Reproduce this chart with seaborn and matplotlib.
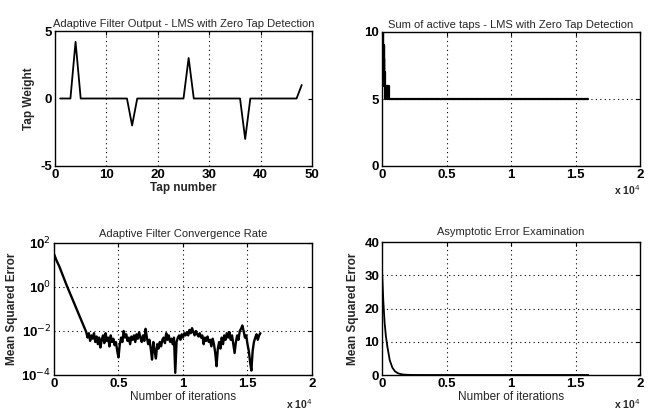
import numpy as np
import pandas as pd
import matplotlib
matplotlib.use("Agg")
import matplotlib.pyplot as plt
import seaborn as sns

sns.set_style("white")
plt.rcParams["font.family"] = ["Liberation Sans", "DejaVu Sans"]
plt.rcParams["axes.unicode_minus"] = False

# --- Adaptive filter tap weights after convergence ---
tap_index = list(range(1, 49))
tap_weight = [0, 0, 0, 4.2, 0, 0, 0, 0, 0, 0, 0, 0, 0, 0, -2.0, 0,
              0, 0, 0, 0, 0, 0, 0, 0, 0, 3.0, 0, 0, 0, 0, 0, 0,
              0, 0, 0, 0, -3.0, 0, 0, 0, 0, 0, 0, 0, 0, 0, 0, 1.0]

# --- Number of active taps over the run ---
active_iter = [0, 20, 40, 60, 80, 100, 120, 140, 160, 180, 200, 250,
               300, 350, 400, 450, 500, 550, 600, 16000]
active_taps = [10, 9, 10, 8, 9, 7, 9, 6, 8, 7, 6, 5,
               6, 5, 6, 5, 6, 5, 5, 5]

# --- Mean squared error (log10) : initial descent, then steady state ---
decay_iter = [0, 100, 200, 300, 400, 600, 800, 1000, 1250, 1500,
              1750, 2000, 2250]
decay_log_mse = [1.5, 1.35, 1.2, 1.07, 0.95, 0.65, 0.35, 0.05, -0.3, -0.65,
                 -1.0, -1.35, -1.7]

steady_first, steady_last = 2500, 16000
steady_log_mse = [
    -2.05, -2.3, -2.1, -2.45, -2.2, -2.35, -2.1, -2.5, -2.25, -2.6,
    -2.3, -2.75, -2.4, -2.2, -2.55, -2.1, -2.45, -2.3, -2.7, -2.2,
    -2.5, -2.35, -2.65, -2.5, -2.9, -3.2, -2.6, -2.3, -2.5, -2.0,
    -2.3, -2.15, -2.45, -2.3, -2.6, -2.25, -2.4, -2.2, -2.5, -2.15,
    -2.35, -2.05, -2.3, -2.5, -2.2, -2.45, -1.9, -2.3, -2.6, -2.4,
    -2.8, -3.3, -2.5, -2.9, -3.25, -2.6, -2.8, -2.5, -2.7, -2.4,
    -2.3, -2.55, -2.1, -2.4, -2.2, -2.5, -2.35, -2.6, -2.3, -3.9,
    -2.5, -2.3, -2.2, -2.4, -2.15, -2.3, -2.1, -2.2, -2.05, -2.2,
    -1.95, -2.1, -1.87, -2.05, -2.2, -2.0, -2.15, -2.25, -2.1, -2.3,
    -2.2, -2.6, -2.3, -2.45, -2.25, -2.5, -2.4, -2.7, -2.35, -2.6,
    -3.0, -3.6, -2.8, -2.5, -2.8, -2.3, -2.6, -2.2, -2.4, -2.1,
    -2.3, -2.05, -2.4, -2.2, -2.6, -3.0, -2.5, -2.2, -2.4, -2.0,
    -1.9, -1.75, -2.0, -2.3, -2.2, -2.6, -2.9, -3.4, -3.8, -2.9,
    -2.5, -2.3, -2.15, -2.4, -2.2, -2.1,
]
steady_iter = np.linspace(steady_first, steady_last, len(steady_log_mse))

mse_iter = np.concatenate([decay_iter, steady_iter])
mse = 10.0 ** np.concatenate([decay_log_mse, steady_log_mse])

taps_df = pd.DataFrame({"tap": tap_index, "w": tap_weight})
active_df = pd.DataFrame({"it": active_iter, "n": active_taps})
mse_df = pd.DataFrame({"it": mse_iter, "mse": mse})

W, H = 653, 416
fig = plt.figure(figsize=(W / 100, H / 100), dpi=100)


def px_axes(x0, y0, x1, y1):
    return fig.add_axes([x0 / W, 1 - y1 / H, (x1 - x0) / W, (y1 - y0) / H])


TITLE_FS = 8
LABEL_FS = 8.5
TICK_FS = 9.5
grid_kw = dict(color="black", linestyle=(0, (1, 3)), linewidth=0.8)


def style(ax):
    for s in ax.spines.values():
        s.set_color("black")
        s.set_linewidth(1.0)
    ax.tick_params(direction="in", length=3, width=0.8, top=True, right=True,
                   labelsize=TICK_FS, pad=2, colors="black")
    for lab in ax.get_xticklabels() + ax.get_yticklabels():
        lab.set_fontweight("bold")


def offset_note(ax, y):
    ax.text(1.0, y, r"x 10$^4$", transform=ax.transAxes, ha="right",
            va="center", fontsize=7.5, fontweight="bold")


iter_ticks = [0, 5000, 10000, 15000, 20000]
iter_labels = ["0", "0.5", "1", "1.5", "2"]

# Top left: tap weights
ax1 = px_axes(55, 31, 312, 166)
sns.lineplot(data=taps_df, x="tap", y="w", ax=ax1, color="black", linewidth=1.3)
ax1.set_xlim(0, 50)
ax1.set_ylim(-5, 5)
ax1.set_xticks([0, 10, 20, 30, 40, 50])
ax1.set_yticks([-5, 0, 5])
for v in [10, 20, 30, 40]:
    ax1.axvline(v, **grid_kw)
ax1.set_title("Adaptive Filter Output - LMS with Zero Tap Detection",
              fontsize=TITLE_FS, pad=3)
ax1.set_xlabel("Tap number", fontsize=LABEL_FS, fontweight="bold", labelpad=1)
ax1.set_ylabel("Tap Weight", fontsize=LABEL_FS, fontweight="bold", labelpad=4)
style(ax1)

# Top right: active taps
ax2 = px_axes(382, 32, 640, 166)
sns.lineplot(data=active_df, x="it", y="n", ax=ax2, color="black",
             linewidth=1.6, drawstyle="steps-post")
ax2.set_xlim(0, 20000)
ax2.set_ylim(0, 10)
ax2.set_xticks(iter_ticks)
ax2.set_xticklabels(iter_labels)
ax2.set_yticks([0, 5, 10])
for v in [5000, 10000, 15000]:
    ax2.axvline(v, **grid_kw)
ax2.axhline(5, **grid_kw)
ax2.set_title("Sum of active taps - LMS with Zero Tap Detection",
              fontsize=TITLE_FS, pad=3)
ax2.set_xlabel("")
ax2.set_ylabel("")
offset_note(ax2, -0.18)
style(ax2)

# Bottom left: convergence (log scale)
ax3 = px_axes(54, 243, 312, 375)
sns.lineplot(data=mse_df, x="it", y="mse", ax=ax3, color="black", linewidth=1.7)
ax3.set_yscale("log")
ax3.set_xlim(0, 20000)
ax3.set_ylim(1e-4, 1e2)
ax3.set_xticks(iter_ticks)
ax3.set_xticklabels(iter_labels)
ax3.set_yticks([1e-4, 1e-2, 1e0, 1e2])
ax3.set_yticklabels([r"10$^{-4}$", r"10$^{-2}$", r"10$^{0}$", r"10$^{2}$"])
ax3.yaxis.set_minor_locator(matplotlib.ticker.NullLocator())
for v in [5000, 10000, 15000]:
    ax3.axvline(v, **grid_kw)
for v in [1e-2, 1e0]:
    ax3.axhline(v, **grid_kw)
ax3.set_title("Adaptive Filter Convergence Rate", fontsize=TITLE_FS, pad=4)
ax3.set_xlabel("Number of iterations", fontsize=LABEL_FS, labelpad=1)
ax3.set_ylabel("Mean Squared Error", fontsize=LABEL_FS, fontweight="bold",
               labelpad=2)
offset_note(ax3, -0.22)
style(ax3)

# Bottom right: asymptotic error (linear scale)
ax4 = px_axes(382, 242, 640, 375)
sns.lineplot(data=mse_df, x="it", y="mse", ax=ax4, color="black", linewidth=1.3)
ax4.set_xlim(0, 20000)
ax4.set_ylim(0, 40)
ax4.set_xticks(iter_ticks)
ax4.set_xticklabels(iter_labels)
ax4.set_yticks([0, 10, 20, 30, 40])
for v in [5000, 10000, 15000]:
    ax4.axvline(v, **grid_kw)
for v in [10, 20, 30]:
    ax4.axhline(v, **grid_kw)
ax4.set_title("Asymptotic Error Examination", fontsize=TITLE_FS, pad=5)
ax4.set_xlabel("Number of iterations", fontsize=LABEL_FS, labelpad=1)
ax4.set_ylabel("Mean Squared Error", fontsize=LABEL_FS, fontweight="bold",
               labelpad=4)
offset_note(ax4, -0.22)
style(ax4)

fig.savefig("out.png", dpi=100)
